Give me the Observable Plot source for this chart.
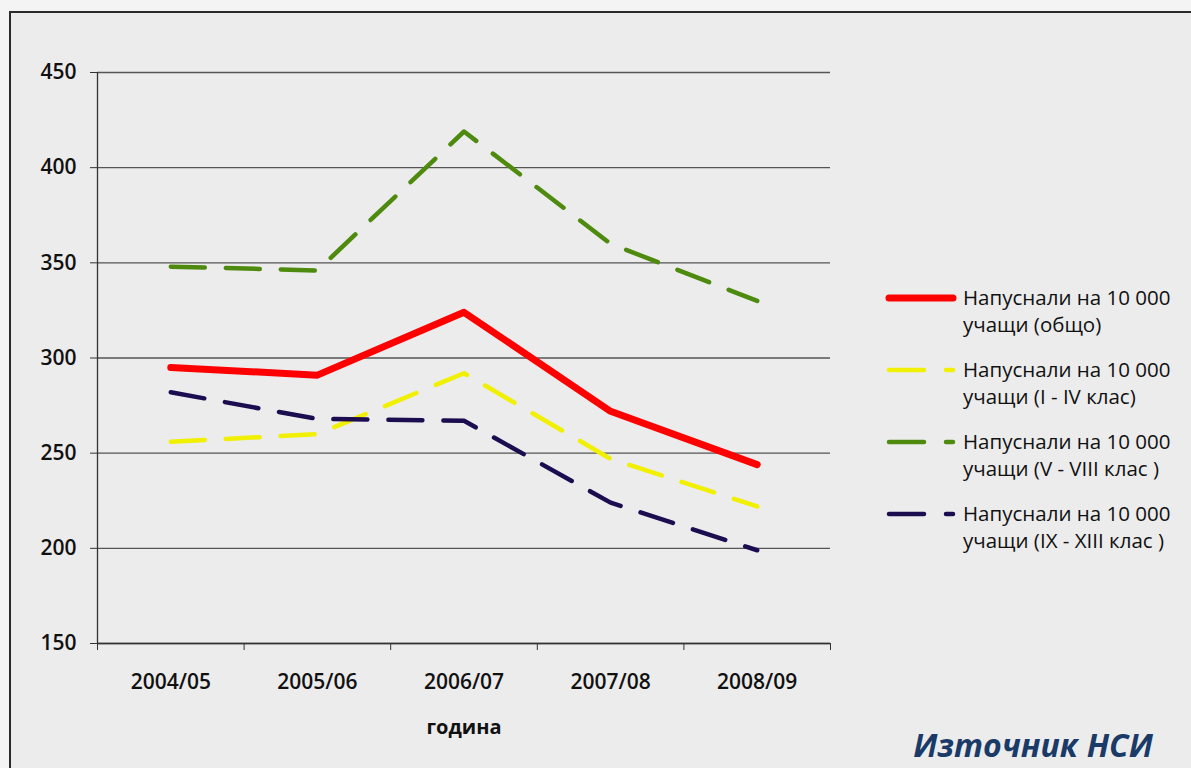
<!DOCTYPE html>
<html><head><meta charset="utf-8">
<script src="https://cdn.jsdelivr.net/npm/d3@7"></script>
<script src="https://cdn.jsdelivr.net/npm/@observablehq/plot@0.6"></script>
<style>
body{margin:0;background:#f4f4f4;font-family:"Open Sans",sans-serif;}
#wrap{position:relative;width:1191px;height:768px;overflow:hidden;}
#box{position:absolute;left:9px;top:11px;width:1200px;height:800px;border:2px solid #2b2b2b;background:#ececec;}
#chart{position:absolute;left:0;top:0;}
#xlabel{position:absolute;left:364px;width:200px;text-align:center;top:713px;font-weight:700;font-size:20px;color:#111;}
#source{position:absolute;left:880px;width:306px;text-align:center;top:723px;font-weight:700;font-style:italic;font-size:32px;color:#1a3a68;}
#legend{position:absolute;left:885px;top:284px;}
.item{display:flex;align-items:flex-start;height:72px;}
.item svg{flex:none;}
.item div{font-size:20.5px;line-height:27px;color:#111;white-space:nowrap;}
</style>
</head><body>
<div id="wrap">
  <div id="box"></div>
  <div id="chart"></div>
  <div id="xlabel">година</div>
  <div id="legend"></div>
  <div id="source">Източник НСИ</div>
</div>
<script>
const categories = ["2004/05","2005/06","2006/07","2007/08","2008/09"];
const obshto   = [295, 291, 324, 272, 244];
const klas1_4  = [256, 260, 292, 247, 222];
const klas5_8  = [348, 346, 419, 360, 330];
const klas9_13 = [282, 268, 267, 224, 199];
const yTicks = [150, 200, 250, 300, 350, 400, 450];
const seriesLabels = [
  ["Напуснали на 10 000", "учащи (общо)"],
  ["Напуснали на 10 000", "учащи (I - IV клас)"],
  ["Напуснали на 10 000", "учащи (V - VIII клас )"],
  ["Напуснали на 10 000", "учащи (IX - XIII клас )"]
];
const seriesValues = [obshto, klas1_4, klas5_8, klas9_13];
const seriesColors = ["#ff0000", "#f0f000", "#4e8a0e", "#1c0c50"];
const seriesWidths = [7, 4.5, 4.5, 4.5];
const seriesDash = [null, "34,21", "34,21", "34,21"];

const rows = seriesValues.map(vals => categories.map((c, i) => ({pos: i + 0.5, v: vals[i]})));

const lineMarks = rows.map((r, k) => Plot.line(r, {
  x: "pos", y: "v", stroke: seriesColors[k], strokeWidth: seriesWidths[k],
  strokeDasharray: seriesDash[k] ?? undefined, strokeLinecap: "round", strokeLinejoin: "round"
}));

const chart = Plot.plot({
  width: 1191, height: 768,
  marginLeft: 97, marginRight: 361, marginTop: 72, marginBottom: 125,
  style: {background: "transparent", fontFamily: "Open Sans", fontSize: "21px", color: "#111"},
  x: {domain: [0, categories.length], axis: null},
  y: {domain: [150, 450], axis: null},
  marks: [
    Plot.gridY(yTicks, {stroke: "#555", strokeOpacity: 1, strokeWidth: 1.3}),
    Plot.axisY(yTicks, {tickSize: 7, tickPadding: 14, stroke: "#333", label: null, fontWeight: 600}),
    Plot.axisX(d3.range(categories.length + 1), {tickSize: 7, tickFormat: () => "", stroke: "#333", label: null}),
    Plot.axisX(categories.map((c, i) => i + 0.5), {tickSize: 0, tickPadding: 31, tickFormat: d => categories[d - 0.5], label: null, fontWeight: 600}),
    Plot.ruleX([0], {stroke: "#333", strokeWidth: 1.3}),
    Plot.ruleY([150], {stroke: "#333", strokeWidth: 1.3}),
    ...lineMarks
  ]
});
document.getElementById("chart").appendChild(chart);

const legend = document.getElementById("legend");
seriesLabels.forEach((lab, k) => {
  const item = document.createElement("div");
  item.className = "item";
  const dash = seriesDash[k] ? `stroke-dasharray="35,22"` : "";
  item.innerHTML = `<svg width="78" height="28"><line x1="4" x2="68" y1="14" y2="14" stroke="${seriesColors[k]}" stroke-width="${seriesWidths[k]}" stroke-linecap="round" ${dash}/></svg><div>${lab[0]}<br>${lab[1]}</div>`;
  legend.appendChild(item);
});
</script>
</body></html>
